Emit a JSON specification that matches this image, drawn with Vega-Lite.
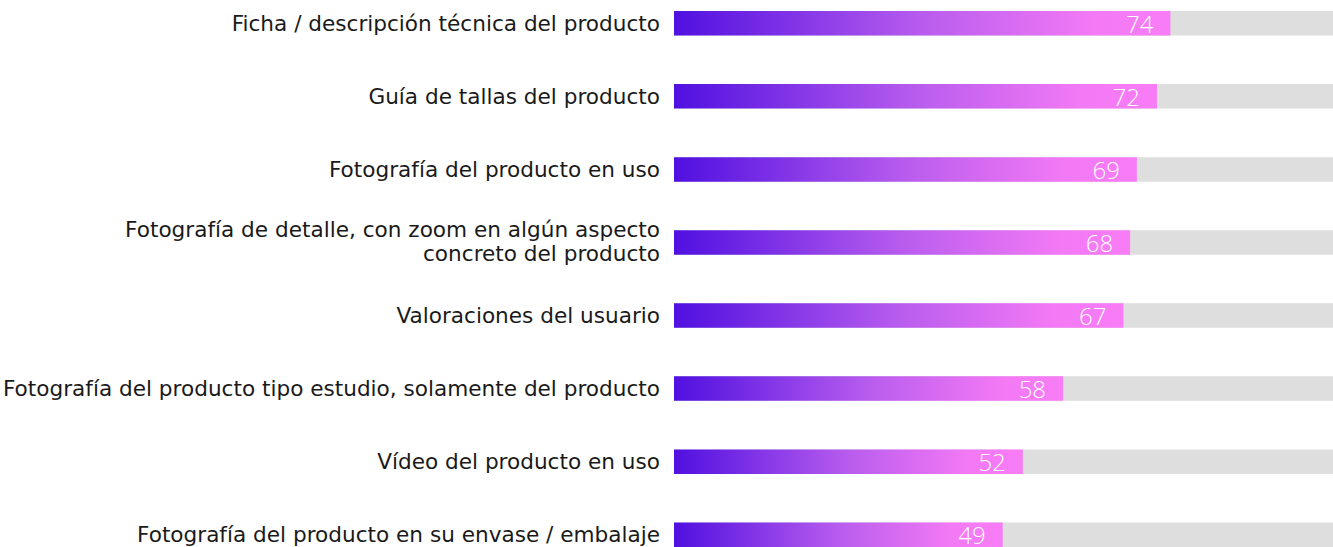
{
  "$schema": "https://vega.github.io/schema/vega-lite/v6.json",
  "width": 659,
  "height": 536,
  "autosize": {"type": "none"},
  "padding": {"left": 674, "top": 11, "right": 0, "bottom": 0},
  "background": "white",
  "config": {"view": {"stroke": null}, "font": "Open Sans"},
  "data": {
    "values": [
      {"label": "Ficha / descripción técnica del producto", "value": 74},
      {"label": "Guía de tallas del producto", "value": 72},
      {"label": "Fotografía del producto en uso", "value": 69},
      {"label": "Fotografía de detalle, con zoom en algún aspecto\nconcreto del producto", "value": 68},
      {"label": "Valoraciones del usuario", "value": 67},
      {"label": "Fotografía del producto tipo estudio, solamente del producto", "value": 58},
      {"label": "Vídeo del producto en uso", "value": 52},
      {"label": "Fotografía del producto en su envase / embalaje", "value": 49}
    ]
  },
  "encoding": {
    "y": {
      "field": "label",
      "type": "nominal",
      "sort": null,
      "scale": {"paddingInner": 0.665, "paddingOuter": 0},
      "axis": null
    }
  },
  "layer": [
    {
      "mark": {"type": "bar", "color": "#dedede", "clip": true},
      "encoding": {
        "x": {"datum": 100, "type": "quantitative", "scale": {"domain": [0, 98.24], "nice": false}, "axis": null}
      }
    },
    {
      "mark": {
        "type": "bar",
        "color": {
          "gradient": "linear",
          "x1": 0, "y1": 0, "x2": 1, "y2": 0,
          "stops": [
            {"offset": 0, "color": "#5010e0"},
            {"offset": 0.5, "color": "#b85cee"},
            {"offset": 0.85, "color": "#f47af5"},
            {"offset": 1, "color": "#f77cf6"}
          ]
        }
      },
      "encoding": {
        "x": {"field": "value", "type": "quantitative", "scale": {"domain": [0, 98.24], "nice": false}, "axis": null}
      }
    },
    {
      "mark": {"type": "text", "align": "right", "baseline": "alphabetic", "dx": -17, "dy": 9.5, "fontSize": 24, "fontWeight": 300, "color": "white"},
      "encoding": {
        "x": {"field": "value", "type": "quantitative", "scale": {"domain": [0, 98.24], "nice": false}, "axis": null},
        "text": {"field": "value", "type": "quantitative"}
      }
    },
    {
      "transform": [{"filter": "indexof(datum.label, '\\n') < 0"}],
      "mark": {"type": "text", "align": "right", "baseline": "middle", "dx": -14, "dy": 1.5, "fontSize": 21.6, "font": "DejaVu Sans", "color": "#1a1a1a"},
      "encoding": {
        "x": {"datum": 0, "type": "quantitative", "scale": {"domain": [0, 98.24], "nice": false}, "axis": null},
        "text": {"field": "label"}
      }
    },
    {
      "transform": [{"filter": "indexof(datum.label, '\\n') >= 0"}],
      "mark": {"type": "text", "align": "right", "baseline": "middle", "dx": -14, "dy": -11, "lineBreak": "\n", "lineHeight": 24, "fontSize": 21.6, "font": "DejaVu Sans", "color": "#1a1a1a"},
      "encoding": {
        "x": {"datum": 0, "type": "quantitative", "scale": {"domain": [0, 98.24], "nice": false}, "axis": null},
        "text": {"field": "label"}
      }
    }
  ]
}
